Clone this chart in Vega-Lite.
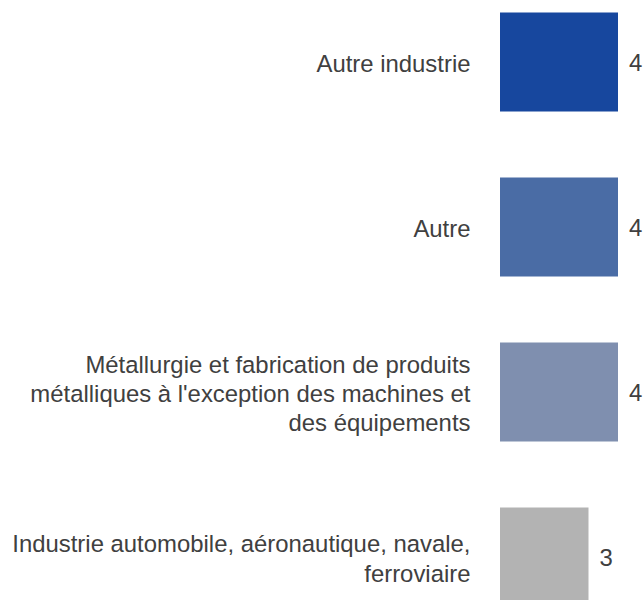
{
  "$schema": "https://vega.github.io/schema/vega-lite/v6.json",
  "autosize": "none",
  "width": 118,
  "height": 600,
  "padding": {"left": 500, "right": 25, "top": 0, "bottom": 0},
  "background": "white",
  "config": {"view": {"stroke": null}, "font": "Liberation Sans"},
  "data": {
    "values": [
      {"secteur": "Autre industrie", "valeur": 4},
      {"secteur": "Autre", "valeur": 4},
      {"secteur": "Métallurgie et fabrication de produits|métalliques à l'exception des machines et|des équipements", "valeur": 4},
      {"secteur": "Industrie automobile, aéronautique, navale,|ferroviaire", "valeur": 3}
    ]
  },
  "encoding": {
    "y": {
      "field": "secteur",
      "type": "nominal",
      "sort": null,
      "scale": {"range": [-20.5, 639.5], "paddingInner": 0.4, "paddingOuter": 0.2},
      "axis": {
        "title": null,
        "domain": false,
        "ticks": false,
        "labelPadding": 30,
        "labelFontSize": 23.9,
        "labelColor": "#404040",
        "labelLimit": 0,
        "labelLineHeight": 29.2,
        "labelExpr": "split(datum.label, '|')",
        "labelOffset": {
          "condition": [
            {"test": "length(split(datum.label, '|')) == 3", "value": -26.2},
            {"test": "length(split(datum.label, '|')) == 2", "value": -11.6}
          ],
          "value": 3
        }
      }
    },
    "x": {"field": "valeur", "type": "quantitative", "scale": {"domain": [0, 4]}, "axis": null}
  },
  "layer": [
    {
      "mark": {"type": "bar"},
      "encoding": {
        "color": {
          "field": "secteur",
          "type": "nominal",
          "sort": null,
          "scale": {"range": ["#17479E", "#4A6CA5", "#7F8FAF", "#B3B3B3"]},
          "legend": null
        }
      }
    },
    {
      "mark": {"type": "text", "align": "left", "baseline": "middle", "dx": 11, "dy": 2, "fontSize": 23.9, "color": "#404040"},
      "encoding": {"text": {"field": "valeur", "type": "quantitative"}}
    }
  ]
}
